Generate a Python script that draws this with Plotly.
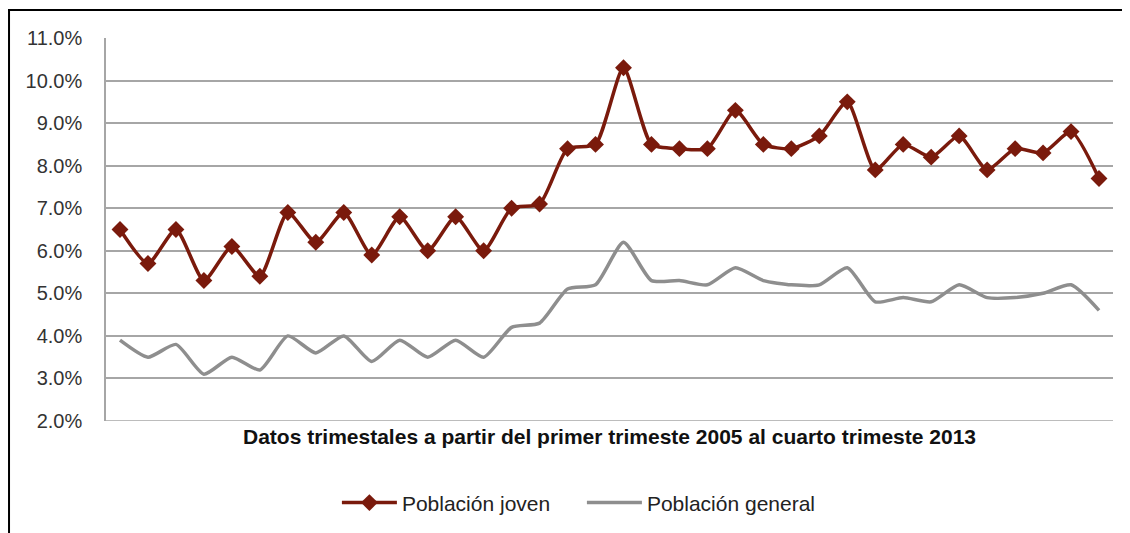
import plotly.graph_objects as go

# trimestres 2005T1 .. 2013T4
quarters = [f"{y}T{q}" for y in range(2005, 2014) for q in range(1, 5)]

joven = [6.5, 5.7, 6.5, 5.3, 6.1, 5.4, 6.9, 6.2, 6.9, 5.9, 6.8, 6.0,
         6.8, 6.0, 7.0, 7.1, 8.4, 8.5, 10.3, 8.5, 8.4, 8.4, 9.3, 8.5,
         8.4, 8.7, 9.5, 7.9, 8.5, 8.2, 8.7, 7.9, 8.4, 8.3, 8.8, 7.7]

general = [3.9, 3.5, 3.8, 3.1, 3.5, 3.2, 4.0, 3.6, 4.0, 3.4, 3.9, 3.5,
           3.9, 3.5, 4.2, 4.3, 5.1, 5.2, 6.2, 5.3, 5.3, 5.2, 5.6, 5.3,
           5.2, 5.2, 5.6, 4.8, 4.9, 4.8, 5.2, 4.9, 4.9, 5.0, 5.2, 4.6]

y_ticks = [2, 3, 4, 5, 6, 7, 8, 9, 10, 11]

RED = "#7A1A0C"
GRAY = "#8E8E8E"
GRID = "#A6A6A6"

fig = go.Figure()
fig.add_trace(go.Scatter(
    x=quarters, y=joven, name="Población joven", mode="lines+markers",
    line=dict(color=RED, width=3.5, shape="spline", smoothing=0.6),
    marker=dict(symbol="diamond", size=13, color=RED),
))
fig.add_trace(go.Scatter(
    x=quarters, y=general, name="Población general", mode="lines",
    line=dict(color=GRAY, width=3.5, shape="spline", smoothing=0.6),
))

# page body has an 8px margin, so the figure is 8px smaller than the window
fig.update_layout(
    width=1122, height=525,
    margin=dict(l=98, r=17, t=30, b=112, autoexpand=False),
    paper_bgcolor="white", plot_bgcolor="white",
    font=dict(family="Liberation Sans, Arial, sans-serif", size=18, color="#333333"),
    showlegend=True,
    legend=dict(orientation="h", x=0.2293, xanchor="left", y=-0.214, yanchor="middle",
                font=dict(size=21, color="#222222"), itemwidth=55,
                entrywidth=175, entrywidthmode="pixels", traceorder="normal"),
    xaxis=dict(
        type="category", range=[-0.5, 35.5], showticklabels=False, showgrid=False,
        ticks="", zeroline=False, showline=False, automargin=False,
        title=dict(text="<b>Datos trimestales a partir del primer trimeste 2005 al cuarto trimeste 2013</b>",
                   font=dict(size=21, color="#111111"), standoff=8),
    ),
    yaxis=dict(
        range=[2, 11], tickvals=y_ticks, ticktext=[f"{v:.1f}%" for v in y_ticks],
        showgrid=True, gridcolor=GRID, gridwidth=1.5, zeroline=False,
        showline=True, linecolor=GRID, linewidth=1.5, automargin=False,
        ticks="", ticklabelstandoff=18,
        tickfont=dict(size=20, color="#333333"),
    ),
    shapes=[
        # bottom grid line at 2.0%
        dict(type="line", xref="paper", yref="y", x0=0, x1=1, y0=2, y1=2,
             line=dict(color=GRID, width=1.5), layer="below"),
        # outer chart frame
        dict(type="rect", xref="paper", yref="paper", x0=-0.0963, x1=1.016,
             y0=-0.4, y1=1.073, line=dict(color="black", width=2)),
    ],
)

fig.write_html("out.html")
